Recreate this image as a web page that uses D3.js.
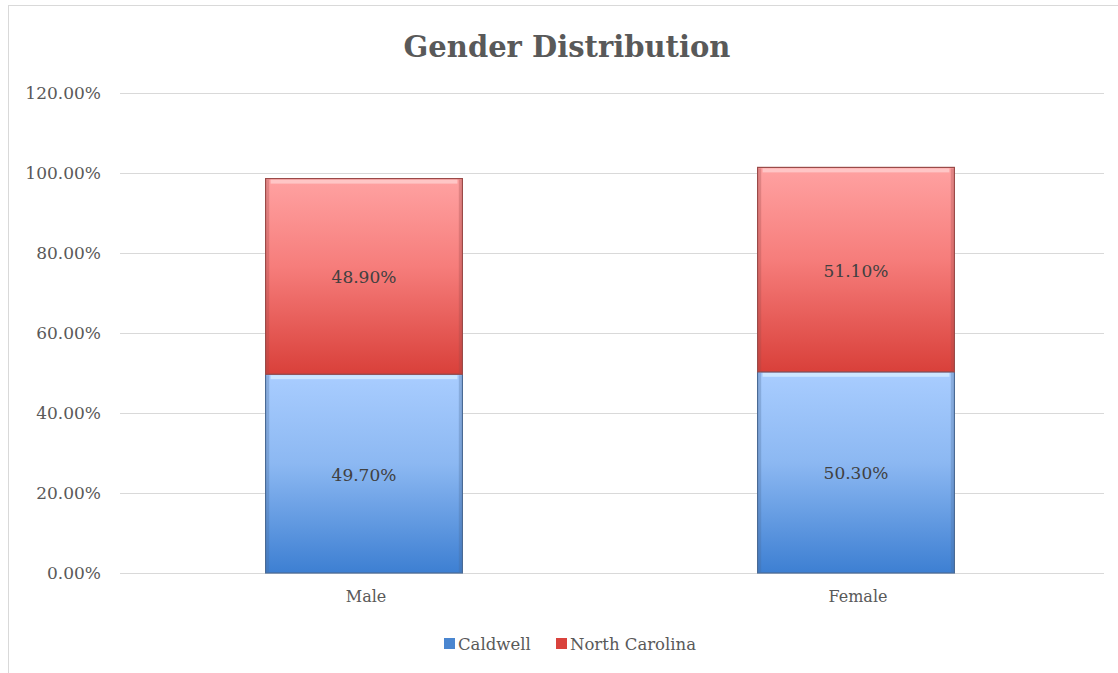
<!DOCTYPE html>
<html>
<head>
<meta charset="utf-8">
<script src="https://cdn.jsdelivr.net/npm/d3@7"></script>
<style>
  body { margin: 0; background: #fff; }
  text { font-family: "DejaVu Serif", "Liberation Serif", serif; }
</style>
</head>
<body>
<div id="chart"></div>
<script>
var categories = ["Male", "Female"];
var caldwell = [0.497, 0.503];
var northCarolina = [0.489, 0.511];
var seriesNames = ["Caldwell", "North Carolina"];
var yTicks = [0, 0.2, 0.4, 0.6, 0.8, 1.0, 1.2];

var W = 1118, H = 673;
var margin = {top: 93, right: 14, bottom: 100, left: 120},
    width = W - margin.left - margin.right,
    height = H - margin.top - margin.bottom;

var svgRoot = d3.select("#chart").append("svg")
    .attr("width", W)
    .attr("height", H);

var defs = svgRoot.append("defs");
function grad(id, c1, c2, c3) {
  var g = defs.append("linearGradient").attr("id", id)
    .attr("x1", 0).attr("y1", 0).attr("x2", 0).attr("y2", 1);
  g.append("stop").attr("offset", "0%").attr("stop-color", c1);
  g.append("stop").attr("offset", "45%").attr("stop-color", c2);
  g.append("stop").attr("offset", "100%").attr("stop-color", c3);
}
grad("gBlue", "#a9cdff", "#8cb8f2", "#3d7fd2");
grad("gRed", "#ffa2a2", "#f67d7b", "#d9403a");

// chart frame
svgRoot.append("rect")
    .attr("x", 8.5).attr("y", 5.5)
    .attr("width", W + 10).attr("height", H - 2)
    .attr("fill", "none")
    .attr("stroke", "#d9d9d9");

var svg = svgRoot.append("g")
    .attr("transform", "translate(" + margin.left + "," + margin.top + ")");

var x = d3.scaleBand().domain(categories).range([0, width]).paddingInner(0.6).paddingOuter(0.3);
var y = d3.scaleLinear().domain([0, 1.2]).range([height, 0]);

// gridlines
svg.append("g").selectAll("line")
  .data(yTicks)
  .enter().append("line")
    .attr("x1", 0).attr("x2", width)
    .attr("y1", function(d) { return Math.round(y(d)) + 0.5; })
    .attr("y2", function(d) { return Math.round(y(d)) + 0.5; })
    .attr("stroke", "#d9d9d9")
    .attr("stroke-width", 1);

// y axis labels
var yAxis = d3.axisLeft(y).tickValues(yTicks).tickSize(0).tickPadding(19)
  .tickFormat(function(d) { return (d * 100).toFixed(2) + "%"; });
var ya = svg.append("g").call(yAxis);
ya.select(".domain").remove();
ya.selectAll("text").attr("font-size", 17).attr("fill", "#595959")
  .style("font-family", "'DejaVu Serif', serif");

// x axis labels
var xAxis = d3.axisBottom(x).tickSize(0).tickPadding(18);
var xa = svg.append("g").attr("transform", "translate(0," + height + ")").call(xAxis);
xa.select(".domain").remove();
xa.selectAll("text").attr("font-size", 16).attr("fill", "#595959")
  .style("font-family", "'DejaVu Serif', serif");

// stacked data
var rows = categories.map(function(c, i) {
  return {cat: c, Caldwell: caldwell[i], "North Carolina": northCarolina[i]};
});
var stack = d3.stack().keys(seriesNames)(rows);
var fills = {"Caldwell": "url(#gBlue)", "North Carolina": "url(#gRed)"};
var edges = {"Caldwell": "#4a6a94", "North Carolina": "#9a4a48"};
var hi = {"Caldwell": "#d6ecff", "North Carolina": "#ffcfcf"};

stack.forEach(function(layer) {
  var g = svg.append("g");
  g.selectAll("rect.bar")
    .data(layer)
    .enter().append("rect")
      .attr("class", "bar")
      .attr("x", function(d) { return x(d.data.cat) - 2; })
      .attr("y", function(d) { return y(d[1]); })
      .attr("width", x.bandwidth())
      .attr("height", function(d) { return y(d[0]) - y(d[1]); })
      .attr("fill", fills[layer.key])
      .attr("stroke", edges[layer.key])
      .attr("stroke-width", 1.2);
  // bevel highlight on top edge
  g.selectAll("rect.hi")
    .data(layer)
    .enter().append("rect")
      .attr("class", "hi")
      .attr("x", function(d) { return x(d.data.cat) + 3; })
      .attr("y", function(d) { return y(d[1]) + 1; })
      .attr("width", x.bandwidth() - 10)
      .attr("height", 4)
      .attr("fill", hi[layer.key])
      .attr("opacity", 0.8);
  // darker edge sides
  g.selectAll("rect.sideL")
    .data(layer)
    .enter().append("rect")
      .attr("x", function(d) { return x(d.data.cat) - 1.4; })
      .attr("y", function(d) { return y(d[1]) + 1; })
      .attr("width", 3)
      .attr("height", function(d) { return y(d[0]) - y(d[1]) - 2; })
      .attr("fill", edges[layer.key])
      .attr("opacity", 0.3);
  g.selectAll("rect.sideR")
    .data(layer)
    .enter().append("rect")
      .attr("x", function(d) { return x(d.data.cat) + x.bandwidth() - 5.6; })
      .attr("y", function(d) { return y(d[1]) + 1; })
      .attr("width", 3)
      .attr("height", function(d) { return y(d[0]) - y(d[1]) - 2; })
      .attr("fill", edges[layer.key])
      .attr("opacity", 0.3);
  g.selectAll("text")
    .data(layer)
    .enter().append("text")
      .attr("x", function(d) { return x(d.data.cat) + x.bandwidth() / 2 - 2; })
      .attr("y", function(d) { return (y(d[0]) + y(d[1])) / 2 + 7; })
      .attr("text-anchor", "middle")
      .attr("font-size", 17)
      .attr("fill", "#404040")
      .text(function(d) { return ((d[1] - d[0]) * 100).toFixed(2) + "%"; });
});

// title
svgRoot.append("text")
    .attr("x", 567).attr("y", 57)
    .attr("text-anchor", "middle")
    .attr("font-size", 29)
    .attr("font-weight", "bold")
    .attr("fill", "#595959")
    .text("Gender Distribution");

// legend
var legendX = [444, 556];
var legColor = ["#4a86d0", "#d9423c"];
seriesNames.forEach(function(n, i) {
  svgRoot.append("rect")
    .attr("x", legendX[i]).attr("y", 638)
    .attr("width", 11).attr("height", 11)
    .attr("fill", legColor[i]);
  svgRoot.append("text")
    .attr("x", legendX[i] + 14).attr("y", 650)
    .attr("font-size", 16.5)
    .attr("fill", "#595959")
    .text(n);
});
</script>
</body>
</html>
